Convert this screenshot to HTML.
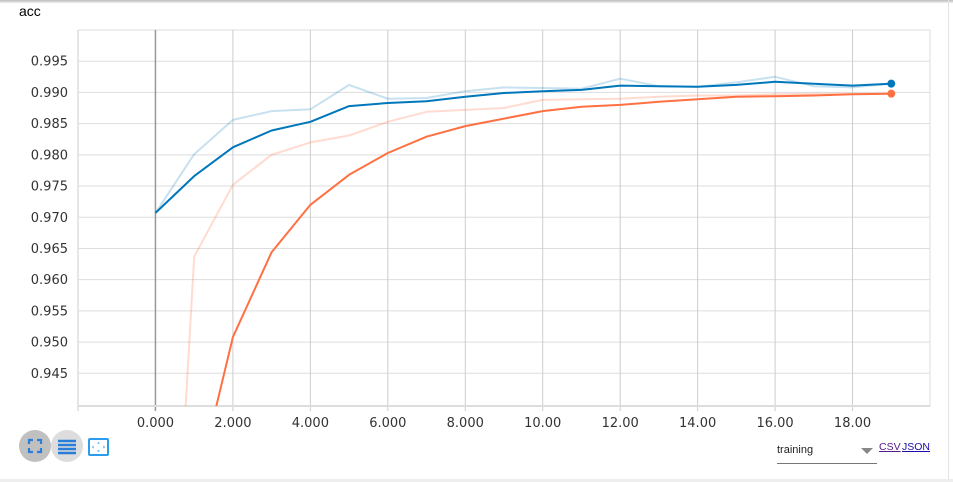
<!DOCTYPE html>
<html style="overflow:hidden;width:953px;height:482px"><head><meta charset="utf-8"><style>
body{margin:0;width:953px;height:482px;background:#fff;font-family:"Liberation Sans",sans-serif;overflow:hidden;position:relative}
.t{position:absolute;left:19px;top:3px;font-size:14px;color:#000}
.btn{position:absolute;top:430px;width:32px;height:32px;border-radius:50%}
.sel{position:absolute;left:777px;top:444px;width:100px;height:19px;border-bottom:1px solid #777;font-size:11px;color:#222}
.lnk{position:absolute;top:441px;font-size:10.5px;color:#1a0dab;text-decoration:underline;line-height:12px}
</style></head><body>
<div style="position:absolute;left:0;top:0;width:953px;height:3px;background:linear-gradient(#bbb,#eee)"></div>
<div style="position:absolute;left:948px;top:0;width:1px;height:482px;background:#e4e4e4"></div>
<div style="position:absolute;left:0;top:479px;width:953px;height:3px;background:#eee"></div>
<div class="t">acc</div>
<svg id="c" width="953" height="482" style="position:absolute;left:0;top:0"></svg>
<div class="btn" style="left:19px;background:#c0c0c0">
<svg width="32" height="32"><path d="M10 14V10H14M18 10H22V14M22 18V22H18M14 22H10V18" stroke="#2a7ed8" stroke-width="2.2" fill="none"/></svg></div>
<div class="btn" style="left:51px;background:#ddd">
<svg width="32" height="32"><path d="M7 11H25M7 15H25M7 19H25M7 23H25" stroke="#2a7ed8" stroke-width="2.5"/></svg></div>
<div style="position:absolute;left:88px;top:438px;width:21px;height:18px;border:2px solid #2a9df0;box-sizing:border-box;border-radius:2px">
<svg width="17" height="14" style="position:absolute;left:0;top:0"><path d="M8.5 2l-1.5 1.5h3zM8.5 12l-1.5-1.5h3zM2 7l1.5-1.5v3zM15 7l-1.5-1.5v3z" fill="#2a9df0"/></svg></div>
<div class="sel">training<span style="position:absolute;right:4px;top:4px;border-left:6px solid transparent;border-right:6px solid transparent;border-top:6px solid #888"></span></div>
<span class="lnk" style="left:879px;color:#551a8b">CSV</span>
<span class="lnk" style="left:902px">JSON</span>
<script>
const steps=[0,1,2,3,4,5,6,7,8,9,10,11,12,13,14,15,16,17,18,19];
const blueRaw=[0.9707,0.9801,0.9856,0.9870,0.9873,0.9912,0.9890,0.9891,0.9902,0.9908,0.9907,0.9906,0.9922,0.9910,0.9909,0.9916,0.9925,0.9910,0.9908,0.9914];
const blueSmooth=[0.9707,0.9766,0.9812,0.9839,0.9853,0.9878,0.9883,0.9886,0.9893,0.9899,0.9902,0.9904,0.9911,0.9910,0.9909,0.9912,0.9917,0.9914,0.9911,0.9914];
const orangeRaw=[0.855,0.9637,0.9752,0.9800,0.9820,0.9831,0.9853,0.9869,0.9872,0.9875,0.9888,0.9889,0.9890,0.9893,0.9895,0.9895,0.9897,0.9898,0.9898,0.9898];
const orangeSmooth=[0.880,0.925,0.9508,0.9644,0.9720,0.9768,0.9803,0.9829,0.9846,0.9858,0.9870,0.9877,0.9880,0.9885,0.9889,0.9893,0.9894,0.9895,0.9897,0.9898];
const yTicks=[0.945,0.950,0.955,0.960,0.965,0.970,0.975,0.980,0.985,0.990,0.995];
const xTicks=[0,2,4,6,8,10,12,14,16,18];
const xLabels=["0.000","2.000","4.000","6.000","8.000","10.00","12.00","14.00","16.00","18.00"];
const L=78,R=930,T=30,B=406,xmin=-2,xmax=20,ymin=0.93976,ymax=1.0;
const X=v=>L+(v-xmin)/(xmax-xmin)*(R-L);
const Y=v=>B-(v-ymin)/(ymax-ymin)*(B-T);
const s=document.getElementById('c'),NS='http://www.w3.org/2000/svg';
function mk(t,a,p){const e=document.createElementNS(NS,t);for(const k in a)e.setAttribute(k,a[k]);(p||s).appendChild(e);return e;}
const defs=mk('defs',{});const cp=mk('clipPath',{id:'cp'},defs);mk('rect',{x:L,y:T,width:R-L,height:B-T},cp);
mk('line',{x1:L,y1:T,x2:R,y2:T,stroke:'#ddd'});
mk('line',{x1:R,y1:T,x2:R,y2:B,stroke:'#ddd'});
mk('line',{x1:L,y1:T,x2:L,y2:B+5,stroke:'#ccc'});
yTicks.forEach(v=>{
const g=mk('line',{x1:L,y1:Y(v),x2:R,y2:Y(v),stroke:'#ddd'});

const t=mk('text',{x:L-10,y:Y(v)+4.5,'text-anchor':'end','font-size':13,fill:'#333','font-family':'"DejaVu Sans",sans-serif'});
t.textContent=v.toFixed(3);

});
xTicks.forEach((v,i)=>{
const g=mk('line',{x1:X(v),y1:T,x2:X(v),y2:B+5,stroke:v===0?'#999':'#ccc','stroke-width':v===0?1.5:1});

const t=mk('text',{x:X(v),y:B+21,'text-anchor':'middle','font-size':13,fill:'#333','font-family':'"DejaVu Sans",sans-serif'});
t.textContent=xLabels[i];

});
mk('line',{x1:L,y1:B,x2:R,y2:B,stroke:'#ddd','stroke-width':2});
function line(vals,color,op,w,name){
const d=steps.map((x,i)=>(i?'L':'M')+X(x).toFixed(1)+' '+Y(vals[i]).toFixed(1)).join('');
const p=mk('path',{d:d,fill:'none',stroke:color,'stroke-opacity':op,'stroke-width':w,'clip-path':'url(#cp)','stroke-linejoin':'round'});

}
line(orangeRaw,'#ff7043',0.25,2,'orange-raw-line');
line(blueRaw,'#0077bb',0.22,2,'blue-raw-line');
line(orangeSmooth,'#ff7043',1,2,'orange-smoothed-line');
line(blueSmooth,'#0077bb',1,2,'blue-smoothed-line');
const n=steps.length-1;
const d1=mk('circle',{cx:X(steps[n]),cy:Y(blueSmooth[n]),r:4,fill:'#0077bb'});

const d2=mk('circle',{cx:X(steps[n]),cy:Y(orangeSmooth[n]),r:4,fill:'#ff7043'});

</script>
</body></html>
